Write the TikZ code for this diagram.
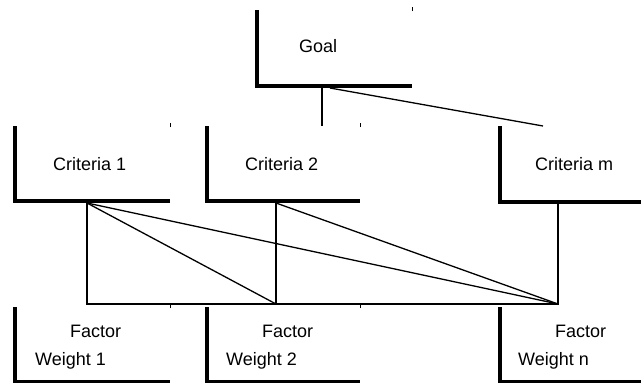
\documentclass[tikz,border=0pt]{standalone}
\usepackage{fontspec}
\setmainfont{Liberation Sans}
\usetikzlibrary{calc}
\begin{document}
\begin{tikzpicture}[x=1pt,y=-1pt,
  boxnode/.style={minimum width=#1, inner sep=0pt, outer sep=0pt, rectangle},
  frame/.style={line width=3.8pt, line join=miter},
  conn/.style={line width=1.3pt},
  tick/.style={line width=0.8pt},
  lab/.style={anchor=base west, inner sep=0pt, font=\fontsize{18}{21}\selectfont}]
\useasboundingbox (0,0) rectangle (641,383);
% boxes
\node[boxnode=155pt, minimum height=76pt] (goal) at (334.5,48) {};
\node[boxnode=155pt, minimum height=75pt] (c1) at (92.5,163.5) {};
\node[boxnode=153pt, minimum height=75pt] (c2) at (283.5,163.5) {};
\node[boxnode=141pt, minimum height=76pt] (cm) at (570.5,164) {};
\node[boxnode=155pt, minimum height=75pt] (f1) at (92.5,344.5) {};
\node[boxnode=153pt, minimum height=75pt] (f2) at (283.5,344.5) {};
\node[boxnode=141pt, minimum height=75pt] (fn) at (570.5,344.5) {};
% L frames
\foreach \b in {goal,c1,c2,cm,f1,f2,fn}
  \draw[frame] (\b.north west) -- (\b.south west) -- (\b.south east);
% corner ticks
\foreach \b in {goal,c1,c2,f1,f2}
  \draw[tick] ($(\b.north east)+(0,1)$) -- ($(\b.north east)+(0,-3)$);
% labels
\node[lab] (tg) at (299,52) {Goal};
\node[lab] (t1) at (53,170) {Criteria 1};
\node[lab] (t2) at (245,170) {Criteria 2};
\node[lab] (tm) at (535,170) {Criteria m};
\node[lab] (fa1) at (70,337) {Factor};
\node[lab] (w1) at (35,365) {Weight 1};
\node[lab] (fa2) at (262,337) {Factor};
\node[lab] (w2) at (226,365) {Weight 2};
\node[lab] (fan) at (555,337) {Factor};
\node[lab] (wn) at (518,365) {Weight n};
% connection points
\coordinate (g1) at ($(goal.south west)+(65,2)$);
\coordinate (g2) at ($(goal.south west)+(73,2)$);
\coordinate (p1) at ($(c1.south west)+(72,2)$);
\coordinate (p2) at ($(c2.south west)+(69,2)$);
\coordinate (pm) at ($(cm.south west)+(58,2)$);
\coordinate (q1) at ($(f1.north west)+(72,-3)$);
\coordinate (q2) at ($(f2.north west)+(69,-3)$);
\coordinate (qn) at ($(fn.north west)+(58,-3)$);
% goal connectors
\draw[conn] (g1) -- (g1 |- c2.north);
\draw[conn] (g2) -- ($(cm.north west)+(43,0)$);
% criteria to factors
\draw[conn] (p1) -- (q1) -- (qn) -- (pm);
\draw[conn] (p2) -- (q2);
\draw[conn] (p1) -- (q2);
\draw[conn] (p1) -- (qn);
\draw[conn] (p2) -- (qn);
\end{tikzpicture}
\end{document}
